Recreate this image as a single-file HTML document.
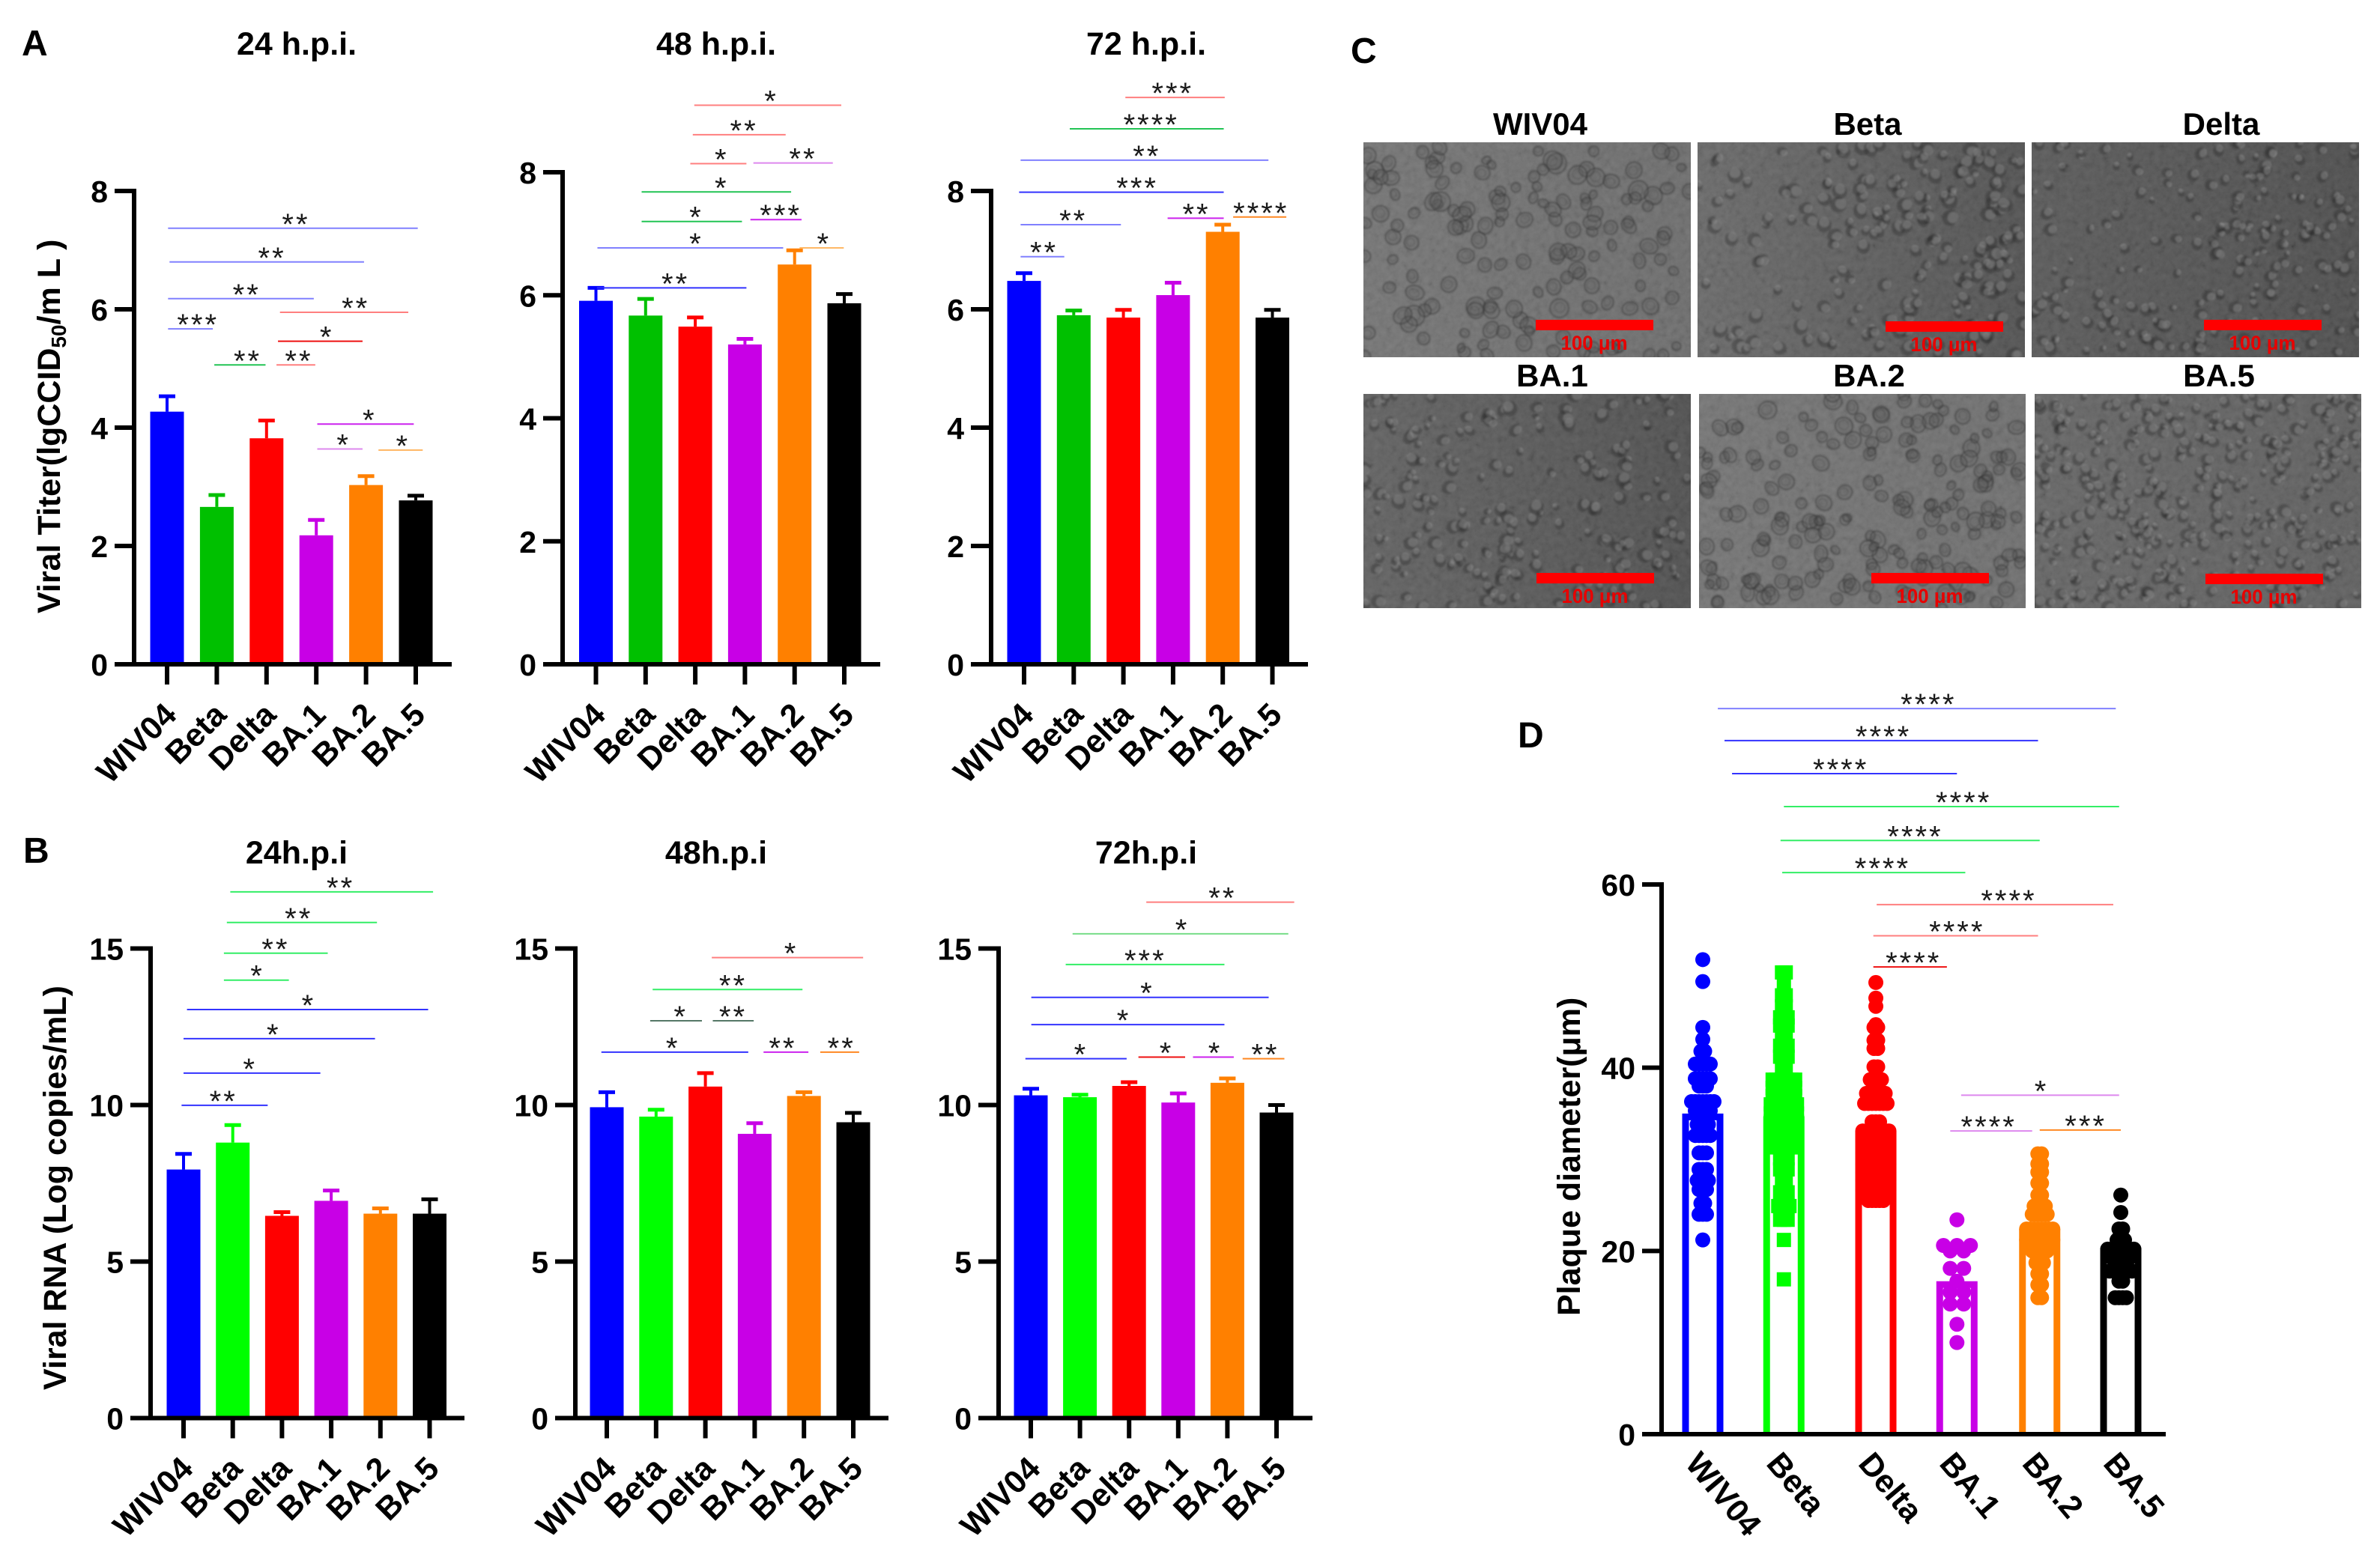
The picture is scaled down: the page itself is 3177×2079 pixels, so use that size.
<!DOCTYPE html>
<html lang="en">
<head>
<meta charset="utf-8">
<title>Viral titer, viral RNA and plaque size across SARS-CoV-2 variants</title>
<style>
html,body{margin:0;padding:0;background:#fff;width:3177px;height:2079px;overflow:hidden}
svg{display:block;font-family:"Liberation Sans",Arial,sans-serif}
</style>
</head>
<body>
<svg id="figure" xmlns="http://www.w3.org/2000/svg" width="3177" height="2079" viewBox="0 0 3177 2079">
  <defs>
    <filter id="grain" x="0" y="0" width="100%" height="100%">
      <feTurbulence type="fractalNoise" baseFrequency="0.12" numOctaves="3" seed="7"/>
      <feColorMatrix type="matrix" values="0.6 0.6 0.6 0 -0.4  0.6 0.6 0.6 0 -0.4  0.6 0.6 0.6 0 -0.4  0 0 0 0 1"/>
    </filter>
    <filter id="soft" x="-10%" y="-10%" width="120%" height="120%">
      <feGaussianBlur stdDeviation="1.1"/>
    </filter>
  </defs>
  <rect width="3177" height="2079" fill="#fff"/>
  <text x="29" y="74" font-size="48" font-weight="700">A</text>
  <text x="31" y="1152" font-size="48" font-weight="700">B</text>
  <text x="1803" y="84" font-size="48" font-weight="700">C</text>
  <text x="2026" y="998" font-size="48" font-weight="700">D</text>
  <text transform="translate(80,819) rotate(-90)" font-size="43" font-weight="700">Viral Titer(lgCCID<tspan font-size="28" dy="8">50</tspan><tspan dy="-8">/m L )</tspan></text>
  <text transform="translate(88,1856) rotate(-90)" font-size="43" font-weight="700">Viral RNA (Log copies/mL)</text>
  <text transform="translate(2109,1757) rotate(-90)" font-size="43" font-weight="700">Plaque diameter(μm)</text>
  <g id="charts"></g>
  <g id="micrographs"></g>
  <g id="plaque"></g>
</svg>
<script>
// ---------- shared categories and axis tick labels ----------
const categories = ['WIV04', 'Beta', 'Delta', 'BA.1', 'BA.2', 'BA.5'];
const titerTicks = [0, 2, 4, 6, 8];
const rnaTicks = [0, 5, 10, 15];
const plaqueTicks = [0, 20, 40, 60];

// ---------- panel A: viral titer (mean, upper error limit) ----------
const titer24Means = [4.27, 2.66, 3.82, 2.18, 3.03, 2.77];
const titer24Upper = [4.53, 2.86, 4.12, 2.44, 3.18, 2.85];
const titer48Means = [5.91, 5.67, 5.49, 5.20, 6.50, 5.87];
const titer48Upper = [6.12, 5.94, 5.64, 5.29, 6.73, 6.02];
const titer72Means = [6.48, 5.90, 5.86, 6.24, 7.31, 5.86];
const titer72Upper = [6.61, 5.98, 5.99, 6.45, 7.43, 5.99];

// ---------- panel B: viral RNA (mean, upper error limit) ----------
const rna24Means = [7.94, 8.80, 6.46, 6.94, 6.53, 6.53];
const rna24Upper = [8.44, 9.36, 6.58, 7.27, 6.70, 6.99];
const rna48Means = [9.93, 9.63, 10.59, 9.08, 10.29, 9.45];
const rna48Upper = [10.41, 9.85, 11.02, 9.42, 10.41, 9.75];
const rna72Means = [10.31, 10.25, 10.61, 10.08, 10.71, 9.76];
const rna72Upper = [10.52, 10.33, 10.73, 10.37, 10.85, 10.00];

// ---------- significance brackets: [from category, to category, value level, stars, tone, star category] ----------
const titer24Brackets = [
  [0.02, 5.04, 7.37, '**', 'softBlue', 2.59], [0.05, 3.96, 6.80, '**', 'softBlue', 2.11],
  [0.02, 2.95, 6.18, '**', 'softBlue', 1.60], [0.02, 0.92, 5.67, '***', 'softBlue', 0.62],
  [0.95, 1.98, 5.06, '**', 'darkGreen', 1.62], [2.20, 2.98, 5.06, '**', 'softRed', 2.65],
  [2.23, 3.93, 5.46, '*', 'red', 3.21], [2.27, 4.85, 5.95, '**', 'softRed', 3.79],
  [3.02, 4.96, 4.06, '*', 'purple', 4.07], [3.02, 3.93, 3.64, '*', 'softPurple', 3.55],
  [4.25, 5.14, 3.62, '*', 'softOrange', 4.74]
];
const titer48Brackets = [
  [0.02, 3.03, 6.12, '**', 'blue', 1.60], [0.03, 3.77, 6.77, '*', 'softBlue', 2.02],
  [0.92, 2.94, 7.20, '*', 'darkGreen', 2.02], [0.92, 3.93, 7.68, '*', 'darkGreen', 2.53],
  [1.90, 3.03, 8.14, '*', 'softRed', 2.53], [1.95, 3.82, 8.61, '**', 'softRed', 2.98],
  [1.98, 4.94, 9.09, '*', 'softRed', 3.53], [3.17, 4.77, 8.15, '**', 'softPurple', 4.17],
  [3.11, 4.14, 7.23, '***', 'purple', 3.72], [4.10, 4.99, 6.77, '*', 'softOrange', 4.59]
];
const titer72Brackets = [
  [-0.07, 0.81, 6.89, '**', 'softBlue', 0.40], [-0.07, 1.95, 7.43, '**', 'softBlue', 0.99],
  [-0.10, 4.02, 7.98, '***', 'blue', 2.28], [-0.07, 4.92, 8.52, '**', 'softBlue', 2.47],
  [0.92, 4.02, 9.05, '****', 'darkGreen', 2.56], [2.04, 4.04, 9.58, '***', 'softRed', 2.99],
  [2.89, 4.02, 7.54, '**', 'purple', 3.47], [4.21, 5.28, 7.56, '****', 'orange', 4.77]
];
const rna24Brackets = [
  [-0.04, 1.71, 9.99, '**', 'blue', 0.81], [0, 2.78, 11.02, '*', 'blue', 1.35],
  [0, 3.89, 12.12, '*', 'blue', 1.83], [0.07, 4.97, 13.05, '*', 'blue', 2.54],
  [0.82, 2.14, 13.99, '*', 'green', 1.50], [0.82, 2.93, 14.85, '**', 'green', 1.87],
  [0.88, 3.93, 15.83, '**', 'green', 2.34], [0.95, 5.07, 16.81, '**', 'green', 3.19]
];
const rna48Brackets = [
  [-0.11, 2.87, 11.69, '*', 'blue', 1.34], [0.88, 1.93, 12.69, '*', 'gray', 1.50],
  [2.15, 2.98, 12.69, '**', 'gray', 2.56], [0.93, 3.97, 13.69, '**', 'green', 2.56],
  [2.13, 5.20, 14.71, '*', 'softRed', 3.74], [3.18, 4.09, 11.69, '**', 'purple', 3.57],
  [4.33, 5.12, 11.69, '**', 'orange', 4.76]
];
const rna72Brackets = [
  [-0.11, 1.95, 11.48, '*', 'blue', 1.02], [0.01, 3.94, 12.57, '*', 'blue', 1.89],
  [0.01, 4.84, 13.44, '*', 'blue', 2.37], [0.71, 3.94, 14.49, '***', 'green', 2.33],
  [0.85, 5.24, 15.47, '*', 'softGreen', 3.08], [2.35, 5.36, 16.48, '**', 'softRed', 3.90],
  [2.19, 3.14, 11.53, '*', 'red', 2.76], [3.30, 4.13, 11.53, '*', 'purple', 3.75],
  [4.31, 5.16, 11.48, '**', 'orange', 4.77]
];

// ---------- panel D: plaque diameters per variant ----------
const plaqueMeans = [35.0, 34.7, 33.1, 16.7, 22.4, 20.3];
const plaqueWiv04 = [51.8, 49.4, 44.4, 43.1, 41.8, 41.8, 40.4, 40.4, 40.4, 40.4, 40.4, 38.8, 38.8, 38.8, 38.8, 38.8, 38, 38, 38, 36.3, 36.3, 36.3, 36.3, 36.3, 36.3, 36.3, 35.3, 35.3, 35.3, 35.3, 35.3, 33.8, 33.8, 33.8, 33.8, 32.6, 32.6, 32.6, 32.6, 32.6, 30.7, 30.7, 30.7, 28.9, 28.9, 28.9, 27.7, 27.7, 27.7, 27.7, 26.7, 26.7, 26.7, 25.2, 25.2, 24, 24, 24, 21.2];
const plaqueBeta = [50.4, 50.4, 49.2, 47.9, 47.9, 46.7, 46.7, 45.5, 45.5, 45.5, 44.6, 44.6, 44.6, 43.3, 43.3, 42.4, 42.4, 42.4, 41.2, 41.2, 41.2, 40, 40, 38.7, 38.7, 38.7, 38.7, 38.7, 38.7, 38.7, 37.8, 37.8, 37.8, 37.8, 37.8, 37.8, 37.8, 36.9, 36.9, 36.9, 36.9, 36.9, 36.9, 36.9, 36, 36, 36, 36, 36, 36, 36, 36, 35, 35, 35, 35, 35, 35, 35, 35, 34.1, 34.1, 34.1, 34.1, 34.1, 34.1, 34.1, 34.1, 33.2, 33.2, 33.2, 33.2, 33.2, 33.2, 33.2, 33.2, 32.3, 32.3, 32.3, 32.3, 32.3, 32.3, 32.3, 32.3, 31.3, 31.3, 31.3, 31.3, 31.3, 30.1, 30.1, 30.1, 28.9, 28.9, 28.9, 27.7, 27.7, 26.4, 26.4, 26.4, 24.9, 24.9, 24.9, 24.9, 23.4, 23.4, 23.4, 21.2, 16.9];
const plaqueDelta = [49.3, 47.6, 46.7, 44.7, 44.4, 44.4, 43, 43, 42.1, 42.1, 40.1, 40.1, 38.7, 38.7, 38.7, 38.7, 37.2, 37.2, 37.2, 37.2, 37.2, 37.2, 36.1, 36.1, 36.1, 36.1, 36.1, 36.1, 36.1, 34.1, 34.1, 34.1, 33.1, 33.1, 33.1, 33.1, 33.1, 33.1, 33.1, 33.1, 32, 32, 32, 32, 32, 32, 32, 32, 30.7, 30.7, 30.7, 30.7, 30.7, 30.7, 30.7, 30.7, 29.5, 29.5, 29.5, 29.5, 29.5, 29.5, 29.5, 29.5, 28.6, 28.6, 28.6, 28.6, 28.6, 28.6, 28.6, 28.6, 27.7, 27.7, 27.7, 27.7, 27.7, 27.7, 27.7, 27.7, 26.6, 26.6, 26.6, 26.6, 26.6, 26.6, 26.6, 26.6, 25.5, 25.5, 25.5, 25.5, 25.5];
const plaqueBa1 = [23.4, 20.6, 20.6, 20.6, 20, 20, 18.1, 18.1, 16.7, 15.5, 15.5, 14.2, 14.2, 12, 10];
const plaqueBa2 = [30.6, 30.6, 29.5, 29.5, 28.6, 28.6, 27.4, 27.4, 26.1, 26.1, 24.9, 24.9, 24.9, 24.9, 24, 24, 24, 24, 24, 22.4, 22.4, 22.4, 22.4, 22.4, 22.4, 22.4, 22.4, 21.2, 21.2, 21.2, 21.2, 21.2, 21.2, 21.2, 21.2, 20, 20, 20, 20, 20, 18.7, 18.7, 18.7, 17.5, 17.5, 16.3, 16.3, 14.9, 14.9];
const plaqueBa5 = [26.1, 24.2, 22.4, 22.4, 21.2, 21.2, 21.2, 20.2, 20.2, 20.2, 20.2, 20.2, 20.2, 20.2, 20.2, 19.1, 19.1, 19.1, 19.1, 19.1, 17.8, 17.8, 17.8, 17.8, 17.8, 17.8, 17.8, 16.7, 16.7, 14.9, 14.9, 14.9, 14.9];
const plaqueBrackets = [
  [0.18, 4.94, 79.2, '****', 'softBlue', 2.70], [0.26, 4.01, 75.7, '****', 'blue', 2.16],
  [0.35, 3.04, 72.1, '****', 'blue', 1.65], [0.97, 4.98, 68.5, '****', 'green', 3.12],
  [0.93, 4.03, 64.8, '****', 'green', 2.54], [0.95, 3.14, 61.3, '****', 'green', 2.15],
  [2.08, 4.91, 57.8, '****', 'softRed', 3.66], [2.04, 4.01, 54.4, '****', 'softRed', 3.04],
  [2.04, 2.92, 51.0, '****', 'red', 2.52], [3.09, 4.98, 37.0, '*', 'softPurple', 4.05],
  [2.96, 3.94, 33.1, '****', 'softPurple', 3.42], [4.03, 5.00, 33.2, '***', 'orange', 4.58]
];

// ---------- styling ----------
const NS = 'http://www.w3.org/2000/svg';
const tones = { blue: '#3333ff', softBlue: '#8080ff', green: '#33ee66', softGreen: '#77dd88', darkGreen: '#22c455', gray: '#557766', red: '#ee1111', softRed: '#ff7f7f', purple: '#cc22ee', softPurple: '#dd88ee', orange: '#ff8822', softOrange: '#ffb866' };
const variantSlugs = ['wiv04', 'beta', 'delta', 'ba1', 'ba2', 'ba5'];
const titerColors = ['#0000ff', '#00c000', '#ff0000', '#c800e6', '#ff8000', '#000000'];
const rnaColors = ['#0000ff', '#00ff00', '#ff0000', '#c800e6', '#ff8000', '#000000'];

function make(tag, attrs, parent) {
  const node = document.createElementNS(NS, tag);
  for (const key in attrs) node.setAttribute(key, attrs[key]);
  parent.appendChild(node);
  return node;
}

function drawBrackets(brackets, xOf, yOf, parent, prefix) {
  brackets.forEach((b, i) => {
    const line = make('line', { x1: xOf(b[0]), x2: xOf(b[1]), y1: yOf(b[2]), y2: yOf(b[2]), stroke: tones[b[4]], 'stroke-width': 2 }, parent);
    
    
    const star = make('text', { x: xOf(b[5]), y: yOf(b[2]) + 8, 'text-anchor': 'middle', 'font-size': 40, 'letter-spacing': 3, fill: '#1a1a1a' }, parent);
    star.textContent = b[3];
    
    
  });
}

function drawYAxis(ticks, yOf, axisX, tickLeft, yTop, y0, parent, prefix) {
  const axis = make('line', { x1: axisX, x2: axisX, y1: yTop - 3, y2: y0 + 3, stroke: '#000', 'stroke-width': 6 }, parent);
  
  
  ticks.forEach(t => {
    const mark = make('line', { x1: tickLeft, x2: axisX, y1: yOf(t), y2: yOf(t), stroke: '#000', 'stroke-width': 6 }, parent);
    
    
    const label = make('text', { x: tickLeft - 9, y: yOf(t) + 15, 'text-anchor': 'end', 'font-size': 41, 'font-weight': 700 }, parent);
    label.textContent = t;
    
    
  });
}

// ---------- bar charts for panels A and B ----------
const barPanels = [
  { id: 'titer-24h', title: '24 h.p.i.', means: titer24Means, upper: titer24Upper, brackets: titer24Brackets, ticks: titerTicks, colors: titerColors, max: 8, axisX: 179, tickLeft: 153, firstX: 223, step: 66.4, y0: 887, yTop: 255, xEnd: 603, titleX: 396, titleY: 73 },
  { id: 'titer-48h', title: '48 h.p.i.', means: titer48Means, upper: titer48Upper, brackets: titer48Brackets, ticks: titerTicks, colors: titerColors, max: 8, axisX: 751, tickLeft: 725, firstX: 795.5, step: 66.3, y0: 887, yTop: 230, xEnd: 1175, titleX: 956, titleY: 73 },
  { id: 'titer-72h', title: '72 h.p.i.', means: titer72Means, upper: titer72Upper, brackets: titer72Brackets, ticks: titerTicks, colors: titerColors, max: 8, axisX: 1323, tickLeft: 1296, firstX: 1367, step: 66.3, y0: 887, yTop: 255, xEnd: 1746, titleX: 1530, titleY: 73 },
  { id: 'rna-24h', title: '24h.p.i', means: rna24Means, upper: rna24Upper, brackets: rna24Brackets, ticks: rnaTicks, colors: rnaColors, max: 15, axisX: 201, tickLeft: 174, firstX: 245, step: 65.7, y0: 1893.5, yTop: 1266.5, xEnd: 620, titleX: 396, titleY: 1153 },
  { id: 'rna-48h', title: '48h.p.i', means: rna48Means, upper: rna48Upper, brackets: rna48Brackets, ticks: rnaTicks, colors: rnaColors, max: 15, axisX: 768, tickLeft: 741, firstX: 810, step: 65.8, y0: 1893.5, yTop: 1266.5, xEnd: 1186, titleX: 956, titleY: 1153 },
  { id: 'rna-72h', title: '72h.p.i', means: rna72Means, upper: rna72Upper, brackets: rna72Brackets, ticks: rnaTicks, colors: rnaColors, max: 15, axisX: 1333, tickLeft: 1306, firstX: 1376, step: 65.6, y0: 1893.5, yTop: 1266.5, xEnd: 1752, titleX: 1530, titleY: 1153 }
];

const chartsRoot = document.getElementById('charts');
barPanels.forEach(p => {
  const xOf = i => p.firstX + i * p.step;
  const yOf = v => p.y0 - v / p.max * (p.y0 - p.yTop);
  const group = make('g', {}, chartsRoot);
  
  

  const title = make('text', { x: p.titleX, y: p.titleY, 'text-anchor': 'middle', 'font-size': 43, 'font-weight': 700 }, group);
  title.textContent = p.title;
  
  

  categories.forEach((cat, i) => {
    const bar = make('rect', { x: xOf(i) - 22.5, y: yOf(p.means[i]), width: 45, height: p.y0 - yOf(p.means[i]), fill: p.colors[i] }, group);
    
    
    const stem = make('line', { x1: xOf(i), x2: xOf(i), y1: yOf(p.means[i]), y2: yOf(p.upper[i]), stroke: p.colors[i], 'stroke-width': 4 }, group);
    
    
    const cap = make('line', { x1: xOf(i) - 11, x2: xOf(i) + 11, y1: yOf(p.upper[i]), y2: yOf(p.upper[i]), stroke: p.colors[i], 'stroke-width': 5 }, group);
    
    
    const tick = make('line', { x1: xOf(i), x2: xOf(i), y1: p.y0, y2: p.y0 + 27, stroke: '#000', 'stroke-width': 6 }, group);
    
    
    const label = make('text', { transform: 'translate(' + (xOf(i) + 15) + ',' + (p.y0 + 70) + ') rotate(-45)', 'text-anchor': 'end', 'font-size': 43, 'font-weight': 700 }, group);
    label.textContent = cat;
    
    
  });

  const xAxis = make('line', { x1: p.tickLeft, x2: p.xEnd, y1: p.y0, y2: p.y0, stroke: '#000', 'stroke-width': 6 }, group);
  
  
  drawYAxis(p.ticks, yOf, p.axisX, p.tickLeft, p.yTop, p.y0, group, p.id);
  drawBrackets(p.brackets, xOf, yOf, group, p.id);
});

// ---------- panel D: bars with individual points ----------
const plaqueSeries = [plaqueWiv04, plaqueBeta, plaqueDelta, plaqueBa1, plaqueBa2, plaqueBa5];
const plaqueSlots = [0, 0.97, 2.07, 3.04, 4.03, 5];
const plaqueSpread = [5, 5, 5, 18, 5, 5];
const plaqueRoot = document.getElementById('plaque');
const plaqueX = s => 2273 + s * 111.6;
const plaqueY = v => 1915 - v / 60 * (1915 - 1181);

categories.forEach((cat, i) => {
  const cx = plaqueX(plaqueSlots[i]);
  const top = plaqueY(plaqueMeans[i]) + 4.5;
  const outline = make('path', { d: 'M' + (cx - 23) + ' 1915V' + top + 'H' + (cx + 23) + 'V1915', fill: 'none', stroke: rnaColors[i], 'stroke-width': 9 }, plaqueRoot);
  
  

  const counts = {};
  plaqueSeries[i].forEach(v => { counts[v] = (counts[v] || 0) + 1; });
  const seen = {};
  plaqueSeries[i].forEach(v => {
    const order = seen[v] || 0;
    seen[v] = order + 1;
    const px = cx + (order - (counts[v] - 1) / 2) * plaqueSpread[i];
    let dot;
    if (i === 1) {
      dot = make('rect', { x: px - 9.5, y: plaqueY(v) - 9.5, width: 19, height: 19, fill: rnaColors[i] }, plaqueRoot);
    } else {
      dot = make('circle', { cx: px, cy: plaqueY(v), r: 10, fill: rnaColors[i] }, plaqueRoot);
    }
    
    
  });

  const label = make('text', { transform: 'translate(' + (cx - 25) + ',1955) rotate(50)', 'font-size': 43, 'font-weight': 700 }, plaqueRoot);
  label.textContent = cat;
  
  
});

const plaqueXAxis = make('line', { x1: 2192, x2: 2891, y1: 1915, y2: 1915, stroke: '#000', 'stroke-width': 6 }, plaqueRoot);


drawYAxis(plaqueTicks, plaqueY, 2218, 2192, 1181, 1915, plaqueRoot, 'plaque');
drawBrackets(plaqueBrackets, plaqueX, plaqueY, plaqueRoot, 'plaque');

// ---------- panel C: synthetic micrograph textures (not chart data) ----------
const micrographs = [
  { slug: 'wiv04', title: 'WIV04', titleX: 2056, titleY: 180, x: 1820, y: 190, w: 437, h: 287, left: '#727272', right: '#6a6a6a', barX: 2050, barY: 427, seed: 11, cells: 150, minR: 6, maxR: 13, style: 'ring', density: ['66677655', '66777765', '76666887', '77767565', '66667556'] },
  { slug: 'beta', title: 'Beta', titleX: 2493, titleY: 180, x: 2266, y: 190, w: 437, h: 287, left: '#666666', right: '#4e4e4e', barX: 2517, barY: 429, seed: 23, cells: 200, minR: 5, maxR: 11, style: 'blob', density: ['31158867', '31287886', '22136779', '21142789', '54325489'] },
  { slug: 'delta', title: 'Delta', titleX: 2965, titleY: 180, x: 2712, y: 190, w: 437, h: 287, left: '#565656', right: '#4a4a4a', barX: 2942, barY: 427, seed: 37, cells: 190, minR: 4, maxR: 9, style: 'blob', density: ['44347663', '12345378', '54556587', '86574533', '87576556'] },
  { slug: 'ba1', title: 'BA.1', titleX: 2072, titleY: 516, x: 1820, y: 526, w: 437, h: 286, left: '#5e5e5e', right: '#4c4c4c', barX: 2051, barY: 765, seed: 41, cells: 200, minR: 4, maxR: 10, style: 'blob', density: ['53574347', '56334444', '87744645', '78874476', '33564675'] },
  { slug: 'ba2', title: 'BA.2', titleX: 2495, titleY: 516, x: 2268, y: 526, w: 436, h: 286, left: '#727272', right: '#6c6c6c', barX: 2498, barY: 765, seed: 53, cells: 190, minR: 6, maxR: 12, style: 'ring', density: ['77777777', '77677777', '76788787', '67788877', '67777766'] },
  { slug: 'ba5', title: 'BA.5', titleX: 2962, titleY: 516, x: 2716, y: 526, w: 436, h: 286, left: '#626262', right: '#5c5c5c', barX: 2944, barY: 766, seed: 67, cells: 340, minR: 4, maxR: 9, style: 'blob', density: ['88888888', '88888888', '88888888', '88888888', '88888888'] }
];
const microRoot = document.getElementById('micrographs');
const microDefs = document.querySelector('#figure defs');

micrographs.forEach(m => {
  let state = m.seed * 7919;
  const rand = () => { state = (state * 16807) % 2147483647; return state / 2147483647; };
  const grad = make('linearGradient', { id: 'shade-' + m.slug }, microDefs);
  make('stop', { offset: 0, 'stop-color': m.left }, grad);
  make('stop', { offset: 1, 'stop-color': m.right }, grad);
  const clip = make('clipPath', { id: 'clip-' + m.slug }, microDefs);
  make('rect', { x: m.x, y: m.y, width: m.w, height: m.h }, clip);

  const title = make('text', { x: m.titleX, y: m.titleY, 'text-anchor': 'middle', 'font-size': 42, 'font-weight': 700 }, microRoot);
  title.textContent = m.title;
  
  

  const image = make('g', { 'clip-path': 'url(#clip-' + m.slug + ')' }, microRoot);
  
  
  make('rect', { x: m.x, y: m.y, width: m.w, height: m.h, fill: 'url(#shade-' + m.slug + ')' }, image);
  make('rect', { x: m.x, y: m.y, width: m.w, height: m.h, filter: 'url(#grain)', opacity: 0.1 }, image);
  const cellLayer = make('g', { filter: 'url(#soft)' }, image);
  let placed = 0;
  let guard = 0;
  while (placed < m.cells && guard < m.cells * 40) {
    guard++;
    const fx = rand();
    const fy = rand();
    const cellDensity = Number(m.density[Math.floor(fy * 5)][Math.floor(fx * 8)]);
    if (rand() * 9 > cellDensity) continue;
    placed++;
    const px = m.x + fx * m.w;
    const py = m.y + fy * m.h;
    const r = m.minR + rand() * (m.maxR - m.minR);
    const ry = r * (0.75 + rand() * 0.35);
    const turn = 'rotate(' + Math.round(rand() * 180) + ' ' + px + ' ' + py + ')';
    if (m.style === 'ring') {
      make('ellipse', { cx: px, cy: py, rx: r, ry: ry, transform: turn, fill: '#5a5a5a', 'fill-opacity': 0.25, stroke: '#2c2c2c', 'stroke-width': 2, 'stroke-opacity': 0.42 }, cellLayer);
      make('ellipse', { cx: px - 1, cy: py + 1, rx: r * 0.55, ry: ry * 0.55, transform: turn, fill: 'none', stroke: '#3a3a3a', 'stroke-width': 1.2, 'stroke-opacity': 0.3 }, cellLayer);
    } else {
      make('ellipse', { cx: px + 1.5, cy: py + 2, rx: r, ry: ry, transform: turn, fill: '#262626', opacity: 0.36 }, cellLayer);
      make('ellipse', { cx: px - 1, cy: py - 1, rx: r * 0.68, ry: ry * 0.68, transform: turn, fill: '#a2a2a2', opacity: 0.38 }, cellLayer);
    }
  }

  const bar = make('rect', { x: m.barX, y: m.barY, width: 157, height: 14, fill: '#ff0000' }, microRoot);
  
  
  const scale = make('text', { x: m.barX + 78, y: m.barY + 40, 'text-anchor': 'middle', 'font-size': 27, 'font-weight': 700, textLength: 89, lengthAdjust: 'spacingAndGlyphs', fill: '#e80000' }, microRoot);
  scale.textContent = '100 μm';
  
  
});
</script>
</body>
</html>
